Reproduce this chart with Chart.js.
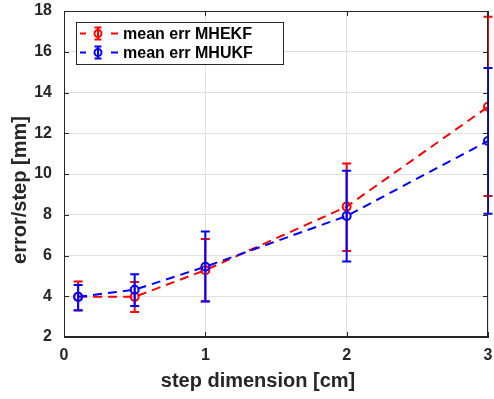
<!DOCTYPE html>
<html>
<head>
<meta charset="utf-8">
<script src="https://cdn.jsdelivr.net/npm/chart.js@4"></script>
<style>
    html, body { margin: 0; padding: 0; background: #fff; }
    #wrap { width: 494px; height: 399px; }
</style>
</head>
<body>
<div id="wrap"><canvas id="myChart" width="494" height="399"></canvas></div>
<script>
// данные
const stepDim = [0.1, 0.5, 1, 2, 3];
const meanEKF = [3.97, 3.97, 5.28, 8.4, 13.3];
const lowEKF = [3.3, 3.23, 3.75, 6.22, 8.92];
const highEKF = [4.73, 4.7, 6.81, 10.52, 17.72];
const meanUKF = [3.97, 4.32, 5.45, 7.94, 11.62];
const lowUKF = [3.31, 3.52, 3.74, 5.7, 8.05];
const highUKF = [4.55, 5.08, 7.18, 10.16, 15.2];
const seriesNames = ['mean err MHEKF', 'mean err MHUKF'];
const xTitle = 'step dimension [cm]';
const yTitle = 'error/step [mm]';

const RED = 'rgb(255, 0, 0)';
const BLUE = 'rgb(0, 0, 255)';
const AXIS = 'rgb(38, 38, 38)';
const FONT = 'Liberation Sans, Arial, sans-serif';

const errors = [
    { low: lowEKF, high: highEKF, color: RED },
    { low: lowUKF, high: highUKF, color: BLUE }
];

// вертикальные отрезки ошибок рисуем через шкалы
const errorBars = {
    id: 'errorBars',
    afterDatasetDraw(chart, args) {
        const e = errors[args.index];
        const x = chart.scales.x, y = chart.scales.y;
        const c = chart.ctx;
        c.save();
        c.strokeStyle = e.color;
        c.lineWidth = 2;
        for (let i = 0; i < stepDim.length; i++) {
            const px = x.getPixelForValue(stepDim[i]);
            const y1 = y.getPixelForValue(e.low[i]);
            const y2 = y.getPixelForValue(e.high[i]);
            c.beginPath();
            c.moveTo(px, y1); c.lineTo(px, y2);
            c.moveTo(px - 4.5, y1); c.lineTo(px + 4.5, y1);
            c.moveTo(px - 4.5, y2); c.lineTo(px + 4.5, y2);
            c.stroke();
        }
        c.restore();
    }
};

// рамка, засечки внутрь, подписи осей и легенда
const frame = {
    id: 'frame',
    afterDraw(chart) {
        const a = chart.chartArea;
        const c = chart.ctx;
        const x = chart.scales.x, y = chart.scales.y;
        c.save();
        c.strokeStyle = AXIS;
        c.lineWidth = 1;
        c.strokeRect(a.left + 0.5, a.top + 0.5, a.right - a.left - 1, a.bottom - a.top - 1);
        c.beginPath();
        x.ticks.forEach(t => {
            const px = Math.round(x.getPixelForValue(t.value)) + 0.5;
            c.moveTo(px, a.bottom); c.lineTo(px, a.bottom - 5);
            c.moveTo(px, a.top); c.lineTo(px, a.top + 5);
        });
        y.ticks.forEach(t => {
            const py = Math.round(y.getPixelForValue(t.value)) + 0.5;
            c.moveTo(a.left, py); c.lineTo(a.left + 5, py);
            c.moveTo(a.right, py); c.lineTo(a.right - 5, py);
        });
        c.stroke();

        // подписи осей
        c.fillStyle = AXIS;
        c.font = 'bold 20px ' + FONT;
        c.textAlign = 'center';
        c.textBaseline = 'middle';
        c.fillText(xTitle, 258, 381);
        c.save();
        c.translate(20, 190);
        c.rotate(-Math.PI / 2);
        c.fillText(yTitle, 0, 0);
        c.restore();
        c.textAlign = 'left';

        // легенда
        const bx = 76, by = 22, bw = 207, bh = 42;
        c.fillStyle = '#fff';
        c.fillRect(bx, by, bw, bh);
        c.strokeStyle = AXIS;
        c.strokeRect(bx + 0.5, by + 0.5, bw, bh);
        const colors = [RED, BLUE];
        const rows = [33.5, 52.5];
        for (let i = 0; i < 2; i++) {
            const ry = rows[i];
            c.strokeStyle = colors[i];
            c.lineWidth = 2;
            c.beginPath();
            c.moveTo(80, ry); c.lineTo(86, ry);
            c.moveTo(111, ry); c.lineTo(118, ry);
            c.stroke();
            c.beginPath();
            c.moveTo(98, ry - 6); c.lineTo(98, ry + 6);
            c.moveTo(94.5, ry - 6); c.lineTo(101.5, ry - 6);
            c.moveTo(94.5, ry + 6); c.lineTo(101.5, ry + 6);
            c.stroke();
            c.beginPath();
            c.arc(98, ry, 3.5, 0, Math.PI * 2);
            c.stroke();
            c.fillStyle = '#000';
            c.font = 'bold 16px ' + FONT;
            c.textBaseline = 'middle';
            c.fillText(seriesNames[i], 123, ry + 1);
        }
        c.restore();
    }
};

const ctx = document.getElementById('myChart').getContext('2d');
window.chart = new Chart(ctx, {
    type: 'line',
    data: {
        datasets: [{
            label: seriesNames[0],
            data: stepDim.map((v, i) => ({ x: v, y: meanEKF[i] })),
            borderColor: RED,
            backgroundColor: 'rgba(0,0,0,0)',
            borderWidth: 2,
            borderDash: [9, 6],
            pointRadius: 4,
            pointBorderWidth: 2,
            pointBorderColor: RED,
            pointBackgroundColor: 'rgba(0,0,0,0)',
            order: 2
        }, {
            label: seriesNames[1],
            data: stepDim.map((v, i) => ({ x: v, y: meanUKF[i] })),
            borderColor: BLUE,
            backgroundColor: 'rgba(0,0,0,0)',
            borderWidth: 2,
            borderDash: [9, 6],
            pointRadius: 4,
            pointBorderWidth: 2,
            pointBorderColor: BLUE,
            pointBackgroundColor: 'rgba(0,0,0,0)',
            order: 1
        }]
    },
    options: {
        responsive: false,
        animation: false,
        layout: { padding: { left: 0, top: 11, right: 3, bottom: 0 } },
        plugins: {
            legend: { display: false },
            tooltip: { enabled: false }
        },
        scales: {
            x: {
                type: 'linear',
                min: 0,
                max: 3,
                afterFit(scale) {
                    scale.height = 62;
                    scale.paddingLeft = 0;
                    scale.paddingRight = 0;
                },
                ticks: {
                    stepSize: 1,
                    color: AXIS,
                    padding: 9,
                    font: { family: FONT, size: 16, weight: 'bold' }
                },
                grid: { color: 'rgb(225,225,225)', drawTicks: false },
                border: { color: AXIS }
            },
            y: {
                min: 2,
                max: 18,
                afterFit(scale) {
                    scale.width = 64;
                    scale.paddingTop = 0;
                    scale.paddingBottom = 0;
                },
                ticks: {
                    stepSize: 2,
                    color: AXIS,
                    padding: 12,
                    font: { family: FONT, size: 16, weight: 'bold' }
                },
                grid: { color: 'rgb(225,225,225)', drawTicks: false },
                border: { color: AXIS }
            }
        }
    },
    plugins: [errorBars, frame]
});
</script>
</body>
</html>
